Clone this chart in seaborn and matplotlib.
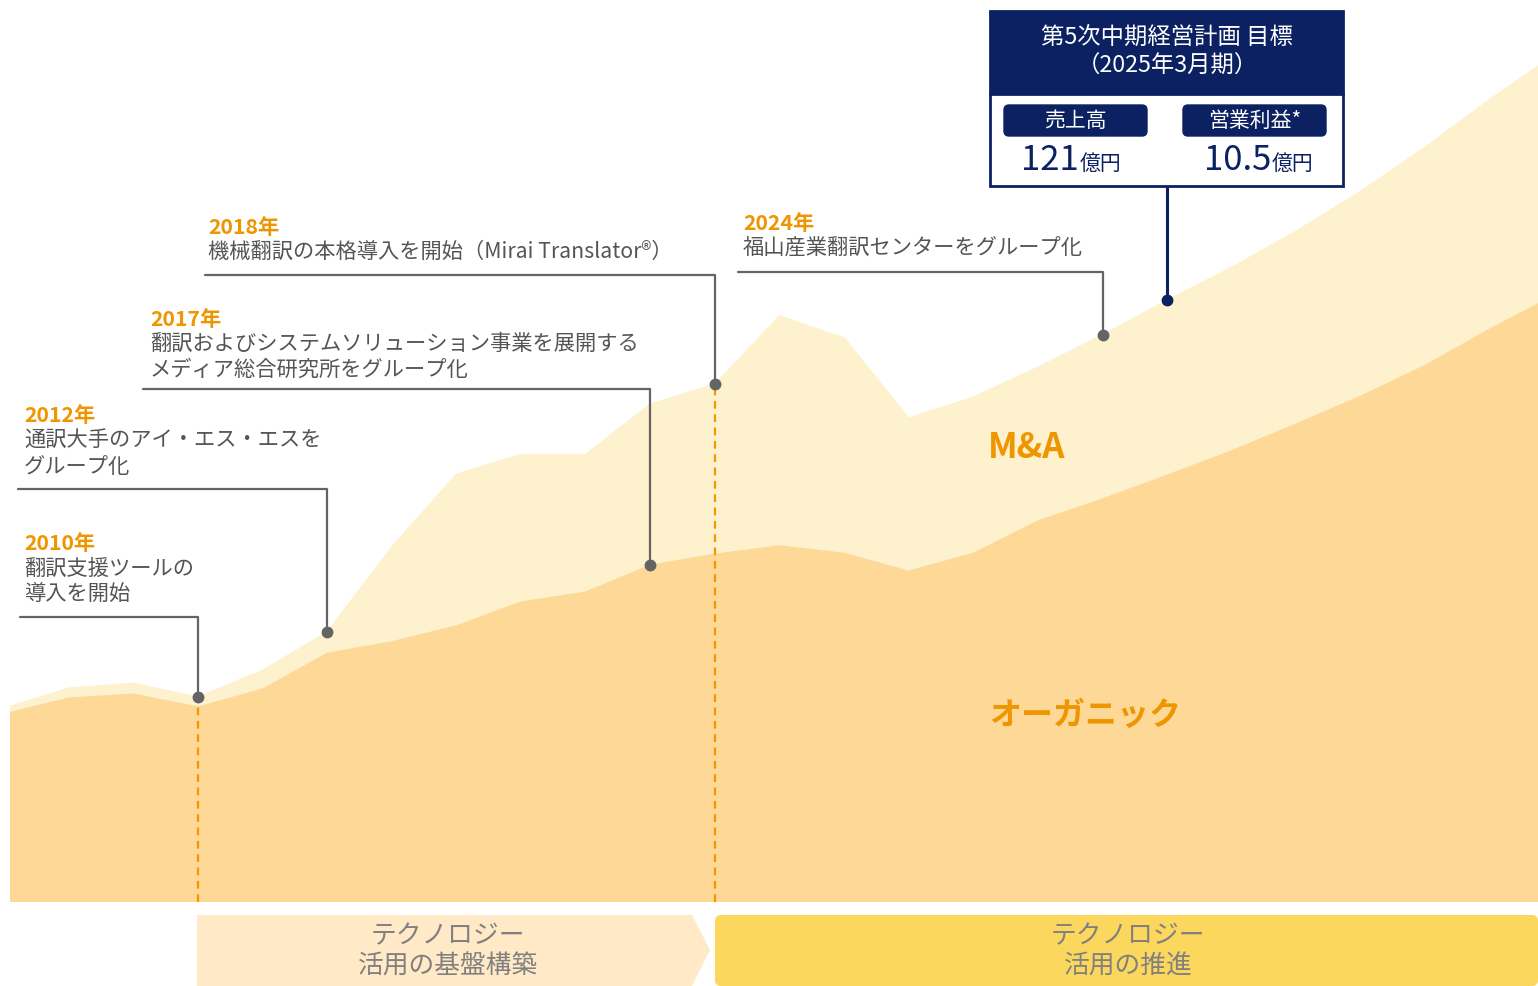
import matplotlib
matplotlib.use("Agg")
import matplotlib.pyplot as plt
from matplotlib.patches import FancyBboxPatch, Polygon, Rectangle
import numpy as np
import pandas as pd
import seaborn as sns

# Revenue split (億円; 2025+ is the plan line)
years = list(range(2007, 2032))
organic = [37.8, 41.0, 41.8, 39.2, 42.8, 50.0, 52.3, 55.5, 60.3, 62.3, 67.7, 69.9,
           71.6, 70.1, 66.5, 70.1, 76.6, 81.0, 85.8, 90.7, 96.1, 101.7, 107.9, 115.2, 122.0]
ma = [1.2, 2.0, 2.2, 2.0, 3.8, 4.3, 19.1, 30.5, 29.7, 27.7, 32.4, 34.2,
      46.2, 43.3, 30.8, 31.4, 30.9, 33.0, 35.2, 36.9, 38.8, 41.2, 43.9, 46.2, 48.4]

series_labels = ["M&A", "オーガニック"]

milestone_years = [2010, 2012, 2017, 2018, 2024]
milestone_titles = ["2010年", "2012年", "2017年", "2018年", "2024年"]
milestone_texts = [
    ["翻訳支援ツールの", "導入を開始"],
    ["通訳大手のアイ・エス・エスを", "グループ化"],
    ["翻訳およびシステムソリューション事業を展開する", "メディア総合研究所をグループ化"],
    ["機械翻訳の本格導入を開始（Mirai Translator®）"],
    ["福山産業翻訳センターをグループ化"],
]
# which curve the dot sits on
milestone_on = ["total", "total", "organic", "total", "total"]

target_year = 2025
target_title = ["第5次中期経営計画 目標", "（2025年3月期）"]
target_labels = ["売上高", "営業利益*"]
target_values = ["121", "10.5"]
target_unit = "億円"

phase_texts = [["テクノロジー", "活用の基盤構築"], ["テクノロジー", "活用の推進"]]

sns.set_theme(style="white")
plt.rcParams["font.family"] = ["Noto Sans CJK JP", "DejaVu Sans"]

ORG_C = "#FDD896"
MA_C = "#FEF1CD"
ORANGE = "#EE9500"
NAVY = "#0B2161"
GRAY = "#646464"
TXT = "#555555"

W, H = 1538, 987
fig = plt.figure(figsize=(W / 100, H / 100), dpi=100)
fig.patch.set_facecolor("white")

# main area axes: px 10..1538 horizontally, 0..903 vertically
ax = fig.add_axes([10 / W, (H - 903) / H, (W - 10) / W, 903 / H])
df = pd.DataFrame({"year": years, "organic": organic, "ma": ma})
df["total"] = df["organic"] + df["ma"]
ax.stackplot(df["year"], df["organic"], df["ma"], colors=[ORG_C, MA_C], linewidth=0)
sns.lineplot(data=df, x="year", y="organic", ax=ax, color=ORG_C, linewidth=0.8)
sns.lineplot(data=df, x="year", y="total", ax=ax, color=MA_C, linewidth=0.8)
ax.set_xlim(2007.09, 2030.74)
ax.set_ylim(0, 181.5)
ax.axis("off")

# overlay in pixel coords
ov = fig.add_axes([0, 0, 1, 1], zorder=5)
ov.set_xlim(0, W)
ov.set_ylim(H, 0)
ov.axis("off")
ov.patch.set_alpha(0)


def to_px(x, y):
    dx, dy = ax.transData.transform((x, y))
    return dx, H - dy


def value_at(year, which):
    row = df[df["year"] == year].iloc[0]
    return row["total"] if which == "total" else row["organic"]


# milestones: (text left, line left, line y, title y)
layout = [
    (24, 20, 618, 544),
    (24, 18, 490, 416),
    (150, 143, 390, 319),
    (208, 205, 276, 227),
    (743, 738, 273, 224),
]
for yr, title, lines, on, (tx, lx, ly, ty) in zip(
        milestone_years, milestone_titles, milestone_texts, milestone_on, layout):
    v = value_at(yr, on)
    px, py = to_px(yr, v)
    ov.plot([lx, px, px], [ly, ly, py], color=GRAY, lw=1.6, zorder=6)
    ov.plot(px, py, "o", color=GRAY, ms=7.5, zorder=7)
    ov.text(tx, ty, title, color=ORANGE, fontsize=15.3, fontweight="bold", va="center", ha="left")
    for i, ln in enumerate(lines):
        ov.text(tx, ty + 25 + 26 * i, ln, color=TXT, fontsize=15.3, va="center", ha="left")

# dashed phase markers
for yr in [2010, 2018]:
    v = value_at(yr, "total")
    ax.plot([yr, yr], [0, v], color="#F39800", lw=1.6, ls=(0, (3.5, 2.5)), zorder=3)

# series labels
ov.text(1027, 448, series_labels[0], color=ORANGE, fontsize=25, fontweight="bold", ha="center", va="center")
ov.text(1085, 716, series_labels[1], color=ORANGE, fontsize=23, fontweight="bold", ha="center", va="center")

# target box
tpx, tpy = to_px(target_year, value_at(target_year, "total"))
ov.plot([tpx, tpx], [187, tpy], color=NAVY, lw=2.2, zorder=6)
ov.plot(tpx, tpy, "o", color=NAVY, ms=7.5, zorder=7)
ov.add_patch(Rectangle((990, 12), 353, 83, facecolor=NAVY, edgecolor=NAVY, lw=2, zorder=6))
ov.add_patch(Rectangle((990, 95), 353, 92, facecolor="white", edgecolor=NAVY, lw=2, zorder=6))
ov.text(1167, 37, target_title[0], color="white", fontsize=16.8, ha="center", va="center", zorder=8)
ov.text(1167, 66, target_title[1], color="white", fontsize=16.8, ha="center", va="center", zorder=8)
for x0, lab, val in zip([1004, 1183], target_labels, target_values):
    ov.add_patch(FancyBboxPatch((x0, 106), 143, 31, boxstyle="round,pad=0,rounding_size=5",
                                facecolor=NAVY, edgecolor=NAVY, zorder=7))
    ov.text(x0 + 71.5, 121, lab, color="white", fontsize=15, ha="center", va="center", zorder=8)
    xr = x0 + 75 if val == "121" else x0 + 88
    ov.text(xr, 170, val, color=NAVY, fontsize=25, ha="right", va="baseline", zorder=8)
    ov.text(xr + 1, 170, target_unit, color=NAVY, fontsize=15, ha="left", va="baseline", zorder=8)

# phase bands
ov.add_patch(Polygon([(197, 916), (692, 916), (710, 951), (692, 987), (197, 987)],
                     closed=True, facecolor="#FFE9C6", edgecolor="none", zorder=4))
ov.add_patch(FancyBboxPatch((715, 916), 823, 71, boxstyle="round,pad=0,rounding_size=6",
                            facecolor="#FCD75E", edgecolor="none", zorder=4))
for cx, lines in zip([448, 1128], phase_texts):
    ov.text(cx, 936, lines[0], color="#808080", fontsize=18.5, ha="center", va="center", zorder=8)
    ov.text(cx, 967, lines[1], color="#808080", fontsize=18.5, ha="center", va="center", zorder=8)

fig.savefig("out.png", dpi=100)
